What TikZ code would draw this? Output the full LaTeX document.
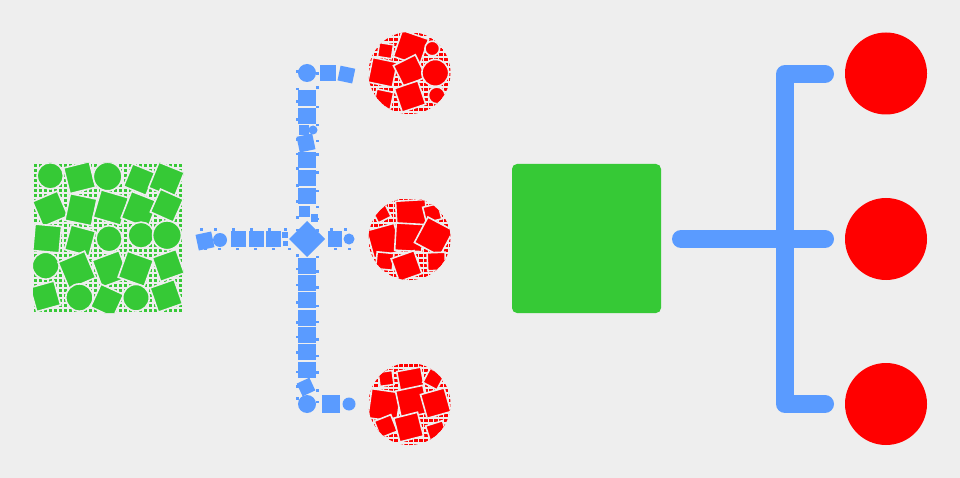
\documentclass[tikz,border=0pt]{standalone}
\usetikzlibrary{shapes.geometric}
\definecolor{bg}{HTML}{EEEEEE}
\definecolor{gr}{HTML}{36C936}
\definecolor{bl}{HTML}{5A9BFF}
\definecolor{rd}{HTML}{FF0000}
\tikzset{
  flatsq/.style={fill=gr, draw=none, rounded corners=5pt, minimum width=149pt, minimum height=149pt, inner sep=0pt},
  flatdot/.style={circle, fill=rd, draw=none, minimum size=82pt, inner sep=0pt},
  flatline/.style={draw=bl, line width=18pt, line cap=round, line join=round},
  mpiece/.style={draw=bg, line width=1.6pt},
  bpiece/.style={fill=bl},
}
\newcommand{\mycirclemosaic}[3]{% cx, cy, seed
  \pgfmathsetseed{#3}
  \begin{scope}
    \clip (#1,#2) circle[radius=41];
    \foreach \i in {0,...,16}{\foreach \j in {0,...,16}{
      \fill[rd] (#1-41+2.5+5*\i-1.8,#2-41+2.5+5*\j-1.8) rectangle ++(3.6,3.6);
    }}
    \foreach \i in {-1,0,1}{\foreach \j in {-1,0,1}{
      \pgfmathsetmacro\cx{#1+25*\i+6*rnd-3}
      \pgfmathsetmacro\cy{#2+25*\j+6*rnd-3}
      \pgfmathsetmacro\ang{60*rnd-30}
      \pgfmathsetmacro\kk{rnd}
      \pgfmathsetmacro\sz{ifthenelse(abs(\i)+abs(\j)>1, 7+2*rnd, 12+3*rnd)}
      \ifdim\kk pt<0.22pt
        \fill[rd,mpiece] (\cx,\cy) circle[radius=\sz];
      \else
        \fill[rd,mpiece,rotate around={\ang:(\cx,\cy)}] (\cx-\sz,\cy-\sz) rectangle (\cx+\sz,\cy+\sz);
      \fi
    }}
  \end{scope}
}
\begin{document}
\begin{tikzpicture}[x=1pt,y=-1pt]
\fill[bg] (0,0) rectangle (960,478);
\useasboundingbox (0,0) rectangle (960,478);

% ---------- right: flat icon ----------
\node[flatsq] (gsq) at (586.5,238.5) {};
\node[flatdot] (r1) at (886,73.5) {};
\node[flatdot] (r2) at (886,239) {};
\node[flatdot] (r3) at (886,404) {};
\coordinate (hs) at (681,239);
\coordinate (he) at (825,239);
\coordinate (te) at (825,74);
\coordinate (tc) at (785,74);
\coordinate (bc) at (785,404);
\coordinate (be) at (825,404);
\draw[flatline] (hs) -- (he);
\draw[flatline] (te) -- (tc) -- (bc) -- (be);

% ---------- left: mosaic icon ----------
% green mosaic square
\pgfmathsetseed{7}
\begin{scope}
  \clip[rounded corners=4pt] (33,163) rectangle (183,313);
  \foreach \i in {0,...,29}{\foreach \j in {0,...,29}{
    \fill[gr] (33+2.5+5*\i-1.8,163+2.5+5*\j-1.8) rectangle ++(3.6,3.6);
  }}
  \foreach \i in {0,...,4}{\foreach \j in {0,...,4}{
    \pgfmathsetmacro\cx{48+30*\i+6*rnd-3}
    \pgfmathsetmacro\cy{178+30*\j+6*rnd-3}
    \pgfmathsetmacro\ang{50*rnd-25}
    \pgfmathsetmacro\sz{12+2.5*rnd}
    \pgfmathsetmacro\kk{rnd}
    \ifdim\kk pt<0.25pt
      \fill[gr,mpiece] (\cx,\cy) circle[radius=\sz];
    \else
      \fill[gr,mpiece,rotate around={\ang:(\cx,\cy)}] (\cx-\sz,\cy-\sz) rectangle (\cx+\sz,\cy+\sz);
    \fi
  }}
\end{scope}

% red mosaic circles
\mycirclemosaic{409.5}{73}{11}
\mycirclemosaic{409.5}{239}{23}
\mycirclemosaic{409.5}{404}{37}

% blue mosaic connector
% small fragments along the path
\pgfmathsetseed{5}
\foreach \y in {68,84,100,118,136,150,166,184,200,214,226,252,266,282,300,318,334,350,368,384,396}{
  \pgfmathsetmacro\da{rnd}
  \fill[bl] (296,\y+4*\da) rectangle ++(2.6,2.6);
  \fill[bl] (316,\y+6-4*\da) rectangle ++(2.6,2.6);
}
\foreach \x in {200,214,232,250,268,284,330,344}{
  \fill[bl] (\x,228) rectangle ++(2.6,2.6);
  \fill[bl] (\x+4,247.5) rectangle ++(2.6,2.6);
}
% vertical squares
\foreach \y in {98,116,160,178,196,266,283,300,318,335,352,370}{
  \fill[bpiece] (298,\y-7.8) rectangle (316,\y+7.8);
}
\fill[bpiece,rotate around={12:(306,143)}] (298,135) rectangle (314,151);
\fill[bpiece] (299,125) rectangle (309,135);
\fill[bpiece] (313,130) circle[radius=4.5];
\fill[bpiece] (299,206) rectangle (310,217);
\fill[bpiece] (311,214) rectangle (318,222);
\fill[bpiece,rotate around={25:(306,387)}] (299,380) rectangle (313,394);
% top end
\fill[bpiece] (307,73) circle[radius=9];
\fill[bpiece] (320,65) rectangle (336,81);
\fill[bpiece,rotate around={-12:(346,74)}] (339,67) rectangle (354,82);
% bottom end
\fill[bpiece] (307,404) circle[radius=9];
\fill[bpiece] (322,395) rectangle (340,413);
\fill[bpiece] (349,404) circle[radius=6.5];
% diamond hub
\fill[bpiece] (307,221) -- (325,239) -- (307,257) -- (289,239) -- cycle;
% horizontal left arm
\fill[bpiece,rotate around={12:(205,241)}] (197,233) rectangle (213,249);
\fill[bpiece] (220,240) circle[radius=7];
\foreach \x in {238,256,273}{
  \fill[bpiece] (\x-7.5,231) rectangle (\x+7.5,247);
}
\fill[bpiece] (282,232) rectangle (288,238);
\fill[bpiece] (283,241) rectangle (288,246);
% horizontal right arm
\fill[bpiece] (328,231) rectangle (342,247);
\fill[bpiece] (349,239) circle[radius=5.5];
\end{tikzpicture}
\end{document}
